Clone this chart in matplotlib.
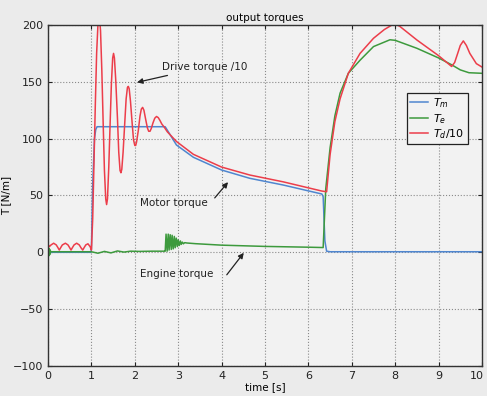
import numpy as np
from matplotlib import pyplot as plt
from matplotlib.transforms import ScaledTranslation

# motor torque T_m
t_m = [0, 0.99, 1.0, 1.03, 1.07, 1.1, 1.13, 2.70, 2.96, 3.35, 4.0, 4.65,
       5.42, 6.31, 6.34, 6.38, 6.42, 6.5, 10]
T_m = [0, 0, 3, 60, 100, 108, 110.5, 110.5, 94.4, 83.6, 72.4, 65.1,
       59.2, 51.3, 49, 10, 1, 0.5, 0.5]

# engine torque T_e
t_e = [0, 0.01, 0.02, 0.03, 0.04, 0.05, 0.06, 0.1, 0.5, 1.0, 1.15, 1.3,
       1.45, 1.6, 1.75, 1.9, 2.1, 2.4, 2.69,
       2.70, 2.72, 2.745, 2.77, 2.79, 2.815, 2.84, 2.86, 2.885, 2.91, 2.93,
       2.955, 2.98, 3.00, 3.025, 3.05, 3.07, 3.095, 3.12, 3.15, 3.2, 3.4,
       4.0, 5.0, 6.0, 6.34, 6.37, 6.40, 6.5, 6.61, 6.73, 6.92, 7.19, 7.5,
       7.88, 8.0, 8.5, 9.0, 9.3, 9.5, 9.7, 10]
T_e = [0, 4, -3, 3, -2, 2, 0.5, 0.5, 0.5, 0.5, -0.8, 0.8,
       -0.5, 1.2, 0.2, 1.0, 0.8, 1.0, 1.0,
       1, 16, 1, 16, 2, 15.5, 2.5, 15, 3, 14, 4,
       12.5, 5, 11, 6, 10, 7, 9, 7.5, 8.5, 8.2, 7.6,
       6.3, 5.2, 4.5, 4.2, 30, 56, 92, 120, 140, 157.5, 169, 181,
       187, 186.5, 179.5, 171, 165, 160.5, 158, 157.5]

# drive torque / 10
t_d = [0, 0.03, 0.07, 0.13, 0.19, 0.23, 0.26, 0.29, 0.33, 0.40, 0.46, 0.50,
       0.53, 0.56, 0.60, 0.66, 0.72, 0.76, 0.80, 0.83, 0.87, 0.92, 0.97,
       1.00, 1.03, 1.06, 1.09, 1.12, 1.15, 1.18, 1.21, 1.24, 1.27, 1.30,
       1.33, 1.35, 1.37, 1.40, 1.43, 1.46, 1.49, 1.51, 1.53, 1.56, 1.60,
       1.63, 1.66, 1.68, 1.70, 1.73, 1.77, 1.80, 1.83, 1.85, 1.87, 1.90,
       1.94, 1.97, 2.00, 2.02, 2.04, 2.08, 2.12, 2.15, 2.18, 2.21, 2.25,
       2.29, 2.32, 2.35, 2.38, 2.42, 2.46, 2.50, 2.54, 2.58, 2.62, 2.68,
       2.75, 2.96, 3.35, 4.0, 4.65, 5.42, 6.31, 6.42, 6.5, 6.61,
       6.73, 6.92, 7.19, 7.5, 7.75, 7.97, 8.1, 8.5, 9.0, 9.3, 9.37, 9.44,
       9.50, 9.57, 9.64, 9.72, 9.87, 10]
T_d = [7, 5, 6.5, 8, 6.5, 4, 2, 4, 6.5, 8, 6.5, 4,
       2, 4, 6.5, 8, 6.5, 4, 2, 4, 6.5, 7.5, 5,
       2, 30, 80, 130, 175, 200, 210, 195, 160, 115, 72,
       47, 42, 47, 75, 112, 148, 171, 175, 171, 152, 118,
       88, 72, 70, 73, 88, 115, 135, 145, 146, 144, 133,
       113, 99, 94, 94, 97, 107, 120, 126, 127.5, 125, 117,
       109.5, 106.5, 106.5, 109, 114, 118, 119.5, 118.5, 116, 113, 110,
       106, 97.5, 86.2, 75, 68, 62, 53.9, 53.3, 86, 115,
       135, 157.5, 175, 188.3, 196, 201, 199, 186.8, 173, 163.5, 167, 175,
       182, 186, 182, 175, 166, 163]

fig = plt.figure(figsize=(4.87, 3.96), dpi=100, facecolor='#ebebeb')
ax = fig.add_axes([0.0986, 0.0758, 0.8911, 0.8611], facecolor='#f2f2f2')

ax.plot(t_m, T_m, color='#4f86cf', lw=1.1, label=r'$T_m$')
ax.plot(t_e, T_e, color='#3d9a3d', lw=1.1, label=r'$T_e$')
ax.plot(t_d, T_d, color='#ec3d4a', lw=1.1, label=r'$T_d$/10')

ax.set_xlim(0, 10)
ax.set_ylim(-100, 200)
ax.set_xticks(np.arange(0, 11, 1))
ax.set_yticks(np.arange(-100, 201, 50))
ax.grid(True, ls=':', color='#8a8a8a', lw=0.8)
ax.tick_params(direction='in', top=True, right=True, labelsize=8, length=3,
               colors='#222222')
for s in ax.spines.values():
    s.set_color('#333333')
    s.set_linewidth(1.0)

# keep the last x label inside the figure
last = ax.get_xticklabels()[-1]
last.set_transform(last.get_transform() +
                   ScaledTranslation(-4 / 72, 0, fig.dpi_scale_trans))

ax.set_title('output torques', fontsize=7.5, pad=3)
ax.set_xlabel('time [s]', fontsize=7.5, labelpad=1)
ax.set_ylabel('T [N/m]', fontsize=7.5)
ax.yaxis.set_label_coords(-0.085, 0.5)

kw = dict(fontsize=7.5, color='#222222',
          arrowprops=dict(arrowstyle='-|>', color='#222222', lw=0.9,
                          mutation_scale=8))
ax.annotate('Drive torque /10', xy=(1.99, 149), xytext=(2.62, 163),
            va='center', **kw)
ax.annotate('', xy=(4.19, 63.6), xytext=(3.8, 46), **kw)
ax.text(2.12, 43.4, 'Motor torque', fontsize=7.5, color='#222222', va='center')
ax.annotate('', xy=(4.55, 1.5), xytext=(4.08, -21.7), **kw)
ax.text(2.12, -19, 'Engine torque', fontsize=7.5, color='#222222', va='center')

leg = ax.legend(loc='upper right', bbox_to_anchor=(0.98, 0.817), fontsize=8,
                fancybox=False, framealpha=1, facecolor='#f2f2f2',
                edgecolor='#222222', handlelength=1.6, borderpad=0.3,
                labelspacing=0.15, handletextpad=0.5)
leg.get_frame().set_linewidth(0.9)

plt.savefig('out.png', dpi=100, facecolor=fig.get_facecolor())
